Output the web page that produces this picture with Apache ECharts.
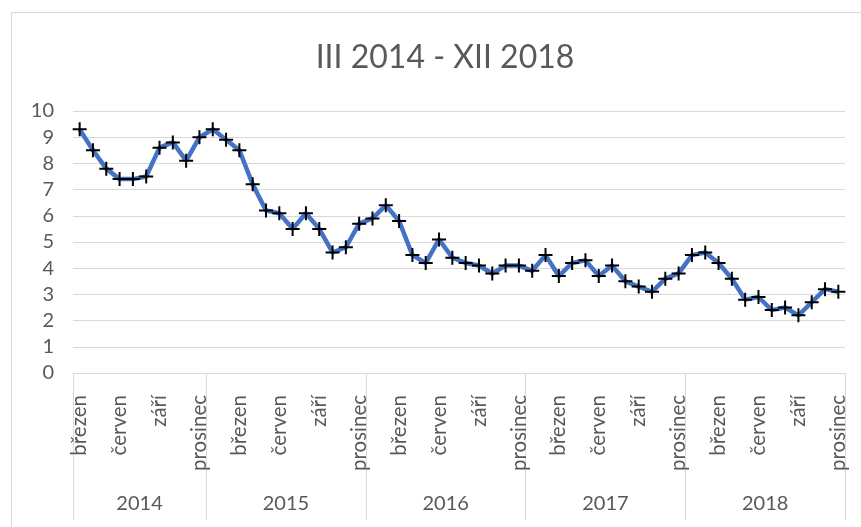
<!DOCTYPE html>
<html>
<head>
<meta charset="utf-8">
<script src="https://cdn.jsdelivr.net/npm/echarts@6/dist/echarts.min.js"></script>
<style>
  html, body { margin: 0; padding: 0; background: #fff; overflow: hidden; }
  #chart { position: absolute; left: 0; top: 0; width: 861px; height: 527px; }
  #frame { position: absolute; left: 11px; top: 12px; width: 900px; height: 600px;
           border: 1px solid #d9d9d9; pointer-events: none; }
</style>
</head>
<body>
<div id="chart"></div>
<div id="frame"></div>
<script>
const title = "III 2014 - XII 2018";
const monthNames = ["leden", "únor", "březen", "duben", "květen", "červen",
  "červenec", "srpen", "září", "říjen", "listopad", "prosinec"];
const years = ["2014", "2015", "2016", "2017", "2018"];
const firstMonth = 2; // březen 2014

const values2014 = [9.3, 8.5, 7.8, 7.4, 7.4, 7.5, 8.6, 8.8, 8.1, 9.0];
const values2015 = [9.3, 8.9, 8.5, 7.2, 6.2, 6.1, 5.5, 6.1, 5.5, 4.6, 4.8, 5.7];
const values2016 = [5.9, 6.4, 5.8, 4.5, 4.2, 5.1, 4.4, 4.2, 4.1, 3.8, 4.1, 4.1];
const values2017 = [3.9, 4.5, 3.7, 4.2, 4.3, 3.7, 4.1, 3.5, 3.3, 3.1, 3.6, 3.8];
const values2018 = [4.5, 4.6, 4.2, 3.6, 2.8, 2.9, 2.4, 2.5, 2.2, 2.7, 3.2, 3.1];

const yearValues = [values2014, values2015, values2016, values2017, values2018];
const values = yearValues.flat();
const categories = values.map((_, i) => monthNames[(firstMonth + i) % 12]);

// year group boundaries and centres on a 0..N scale
const bounds = [0];
yearValues.forEach((v) => bounds.push(bounds[bounds.length - 1] + v.length));
const centres = years.map((_, i) => (bounds[i] + bounds[i + 1]) / 2);

const textColor = "#595959";
const lineColor = "#d9d9d9";
const font = "Lato, 'Open Sans', sans-serif";
const plus = "path://M6,0H8V6H14V8H8V14H6V8H0V6H6Z";

const chart = echarts.init(document.getElementById("chart"));
chart.setOption({
  animation: false,
  title: {
    text: title,
    left: 440,
    top: 37,
    textAlign: "center",
    textStyle: { color: textColor, fontSize: 32, fontWeight: "normal", fontFamily: font },
  },
  grid: { left: 73, right: 16, top: 111, bottom: 154, containLabel: false },
  xAxis: [
    {
      type: "category",
      data: categories,
      boundaryGap: true,
      axisLine: { lineStyle: { color: lineColor, width: 1 } },
      axisTick: { show: false },
      axisLabel: {
        interval: 2,
        rotate: 90,
        margin: 22,
        color: textColor,
        fontSize: 20.5,
        fontFamily: font,
      },
    },
    {
      type: "value",
      min: 0,
      max: values.length,
      position: "bottom",
      axisLine: { show: false },
      splitLine: { show: false },
      axisTick: {
        show: true,
        customValues: bounds,
        length: 147,
        lineStyle: { color: lineColor, width: 1 },
      },
      axisLabel: {
        customValues: centres,
        margin: 121,
        color: textColor,
        fontSize: 20,
        fontFamily: font,
        formatter: (v) => years[centres.indexOf(v)],
      },
    },
  ],
  yAxis: {
    type: "value",
    min: 0,
    max: 10,
    interval: 1,
    axisLine: { show: false },
    axisTick: { show: false },
    splitLine: { lineStyle: { color: lineColor, width: 1 } },
    axisLabel: { color: textColor, fontSize: 20, fontFamily: font, margin: 19 },
  },
  series: [
    {
      type: "line",
      xAxisIndex: 0,
      data: values,
      symbol: plus,
      symbolSize: 14,
      showAllSymbol: true,
      lineStyle: { color: "#4472c4", width: 4.5 },
      itemStyle: { color: "#000" },
    },
  ],
});
</script>
</body>
</html>
